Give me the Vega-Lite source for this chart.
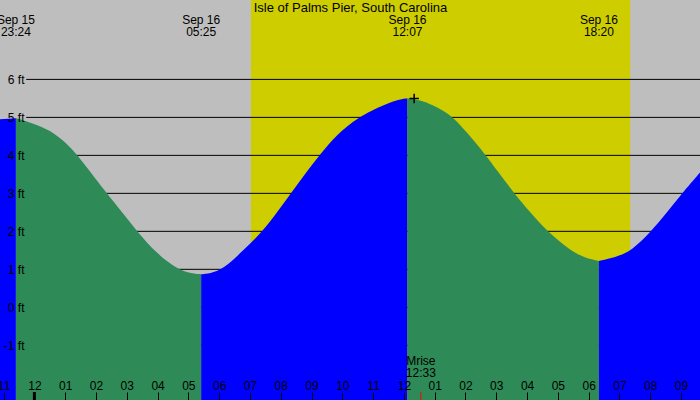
{
  "$schema": "https://vega.github.io/schema/vega-lite/v6.json",
  "autosize": "none",
  "padding": 0,
  "width": 700,
  "height": 400,
  "background": "#bebebe",
  "config": {
    "view": {"stroke": null},
    "text": {"font": "Liberation Sans", "fontSize": 12, "color": "black"}
  },
  "datasets": {
    "tide": [
      {"t": "2024-09-15T22:53", "ft": 4.95, "seg": 1, "phase": "rise"},
      {"t": "2024-09-15T23:24", "ft": 4.98, "seg": 1, "phase": "rise"},
      {"t": "2024-09-15T23:24", "ft": 4.98, "seg": 2, "phase": "fall"},
      {"t": "2024-09-15T23:58", "ft": 4.84, "seg": 2, "phase": "fall"},
      {"t": "2024-09-16T00:30", "ft": 4.67, "seg": 2, "phase": "fall"},
      {"t": "2024-09-16T01:03", "ft": 4.32, "seg": 2, "phase": "fall"},
      {"t": "2024-09-16T01:24", "ft": 4.0, "seg": 2, "phase": "fall"},
      {"t": "2024-09-16T01:39", "ft": 3.74, "seg": 2, "phase": "fall"},
      {"t": "2024-09-16T02:21", "ft": 3.0, "seg": 2, "phase": "fall"},
      {"t": "2024-09-16T02:51", "ft": 2.5, "seg": 2, "phase": "fall"},
      {"t": "2024-09-16T03:20", "ft": 2.0, "seg": 2, "phase": "fall"},
      {"t": "2024-09-16T03:59", "ft": 1.4, "seg": 2, "phase": "fall"},
      {"t": "2024-09-16T04:40", "ft": 1.0, "seg": 2, "phase": "fall"},
      {"t": "2024-09-16T05:03", "ft": 0.9, "seg": 2, "phase": "fall"},
      {"t": "2024-09-16T05:25", "ft": 0.87, "seg": 2, "phase": "fall"},
      {"t": "2024-09-16T05:25", "ft": 0.87, "seg": 3, "phase": "rise"},
      {"t": "2024-09-16T05:42", "ft": 0.89, "seg": 3, "phase": "rise"},
      {"t": "2024-09-16T06:08", "ft": 1.0, "seg": 3, "phase": "rise"},
      {"t": "2024-09-16T06:47", "ft": 1.5, "seg": 3, "phase": "rise"},
      {"t": "2024-09-16T07:25", "ft": 2.0, "seg": 3, "phase": "rise"},
      {"t": "2024-09-16T07:53", "ft": 2.5, "seg": 3, "phase": "rise"},
      {"t": "2024-09-16T08:20", "ft": 3.0, "seg": 3, "phase": "rise"},
      {"t": "2024-09-16T08:47", "ft": 3.5, "seg": 3, "phase": "rise"},
      {"t": "2024-09-16T09:15", "ft": 4.0, "seg": 3, "phase": "rise"},
      {"t": "2024-09-16T09:50", "ft": 4.55, "seg": 3, "phase": "rise"},
      {"t": "2024-09-16T10:29", "ft": 5.0, "seg": 3, "phase": "rise"},
      {"t": "2024-09-16T11:27", "ft": 5.37, "seg": 3, "phase": "rise"},
      {"t": "2024-09-16T11:53", "ft": 5.48, "seg": 3, "phase": "rise"},
      {"t": "2024-09-16T12:07", "ft": 5.5, "seg": 3, "phase": "rise"},
      {"t": "2024-09-16T12:07", "ft": 5.5, "seg": 4, "phase": "fall"},
      {"t": "2024-09-16T12:31", "ft": 5.46, "seg": 4, "phase": "fall"},
      {"t": "2024-09-16T12:57", "ft": 5.32, "seg": 4, "phase": "fall"},
      {"t": "2024-09-16T13:17", "ft": 5.17, "seg": 4, "phase": "fall"},
      {"t": "2024-09-16T13:36", "ft": 5.0, "seg": 4, "phase": "fall"},
      {"t": "2024-09-16T14:02", "ft": 4.62, "seg": 4, "phase": "fall"},
      {"t": "2024-09-16T14:40", "ft": 4.0, "seg": 4, "phase": "fall"},
      {"t": "2024-09-16T15:01", "ft": 3.61, "seg": 4, "phase": "fall"},
      {"t": "2024-09-16T15:35", "ft": 3.0, "seg": 4, "phase": "fall"},
      {"t": "2024-09-16T16:06", "ft": 2.5, "seg": 4, "phase": "fall"},
      {"t": "2024-09-16T16:39", "ft": 2.0, "seg": 4, "phase": "fall"},
      {"t": "2024-09-16T17:24", "ft": 1.5, "seg": 4, "phase": "fall"},
      {"t": "2024-09-16T17:53", "ft": 1.3, "seg": 4, "phase": "fall"},
      {"t": "2024-09-16T18:20", "ft": 1.22, "seg": 4, "phase": "fall"},
      {"t": "2024-09-16T18:20", "ft": 1.22, "seg": 5, "phase": "rise"},
      {"t": "2024-09-16T18:55", "ft": 1.33, "seg": 5, "phase": "rise"},
      {"t": "2024-09-16T19:25", "ft": 1.5, "seg": 5, "phase": "rise"},
      {"t": "2024-09-16T20:02", "ft": 2.0, "seg": 5, "phase": "rise"},
      {"t": "2024-09-16T20:33", "ft": 2.5, "seg": 5, "phase": "rise"},
      {"t": "2024-09-16T21:02", "ft": 3.0, "seg": 5, "phase": "rise"},
      {"t": "2024-09-16T21:37", "ft": 3.55, "seg": 5, "phase": "rise"}
    ],
    "sun": [
      {"rise": "2024-09-16T07:02", "set": "2024-09-16T19:21"}
    ],
    "gridlines": [
      {"ft": -1, "t0": "2024-09-15T23:44", "t1": "2024-09-16T21:37"},
      {"ft": 0, "t0": "2024-09-15T23:44", "t1": "2024-09-16T21:37"},
      {"ft": 1, "t0": "2024-09-15T23:44", "t1": "2024-09-16T21:37"},
      {"ft": 2, "t0": "2024-09-15T23:44", "t1": "2024-09-16T21:37"},
      {"ft": 3, "t0": "2024-09-15T23:44", "t1": "2024-09-16T21:37"},
      {"ft": 4, "t0": "2024-09-15T23:44", "t1": "2024-09-16T21:37"},
      {"ft": 5, "t0": "2024-09-15T23:44", "t1": "2024-09-16T21:37"},
      {"ft": 6, "t0": "2024-09-15T23:44", "t1": "2024-09-16T21:37"}
    ],
    "events": [
      {"t": "2024-09-15T23:24", "label": "Sep 15\n23:24"},
      {"t": "2024-09-16T05:25", "label": "Sep 16\n05:25"},
      {"t": "2024-09-16T12:07", "label": "Sep 16\n12:07"},
      {"t": "2024-09-16T18:20", "label": "Sep 16\n18:20"}
    ],
    "moon": [
      {"t": "2024-09-16T12:33", "label": "Mrise\n12:33"}
    ],
    "midnight": [
      {"t": "2024-09-16T00:00"}
    ],
    "station": [
      {"t": "2024-09-16T10:16", "name": "Isle of Palms Pier, South Carolina"}
    ],
    "now": [
      {"t": "2024-09-16T12:20", "ft": 5.5}
    ]
  },
  "layer": [
    {
      "data": {"name": "sun"},
      "mark": {"type": "rect", "color": "#cdcd00"},
      "encoding": {
        "x": {"field": "rise", "type": "temporal", "title": null},
        "x2": {"field": "set"}
      }
    },
    {
      "data": {"name": "gridlines"},
      "mark": {"type": "rule", "color": "black", "strokeWidth": 1},
      "encoding": {
        "x": {"field": "t0", "type": "temporal", "title": null},
        "x2": {"field": "t1"},
        "y": {"field": "ft", "type": "quantitative", "title": null}
      }
    },
    {
      "data": {"name": "tide"},
      "mark": {"type": "area", "interpolate": "basis", "clip": true},
      "encoding": {
        "x": {
          "field": "t",
          "type": "temporal",
          "title": null,
          "scale": {"nice": false},
          "axis": {
            "title": null,
            "tickCount": 24,
            "format": "%I",
            "domain": false,
            "grid": false,
            "tickSize": -8,
            "tickColor": "black",
            "labelPadding": -12,
            "labelFont": "Liberation Sans",
            "labelFontSize": 12,
            "labelColor": "black",
            "labelFlush": false,
            "labelOverlap": false,
            "zindex": 1
          }
        },
        "y": {
          "field": "ft",
          "type": "quantitative",
          "title": null,
          "scale": {"domain": [-2.44, 8.09], "nice": false, "zero": false},
          "axis": {
            "title": null,
            "values": [-1, 0, 1, 2, 3, 4, 5, 6],
            "labelExpr": "datum.value + ' ft'",
            "domain": false,
            "grid": false,
            "ticks": false,
            "tickSize": 0,
            "labelAlign": "right",
            "labelBaseline": "middle",
            "labelPadding": -24,
            "labelFont": "Liberation Sans",
            "labelFontSize": 12,
            "labelColor": "black",
            "zindex": 1
          }
        },
        "y2": {"datum": -2.44},
        "detail": {"field": "seg", "type": "nominal"},
        "color": {
          "field": "phase",
          "type": "nominal",
          "legend": null,
          "scale": {"domain": ["rise", "fall"], "range": ["#0000ff", "#2e8b57"]}
        }
      }
    },
    {
      "data": {"name": "moon"},
      "mark": {"type": "rule", "color": "red", "strokeWidth": 1},
      "encoding": {
        "x": {"field": "t", "type": "temporal"},
        "y": {"datum": -2.23},
        "y2": {"datum": -2.44}
      }
    },
    {
      "data": {"name": "midnight"},
      "mark": {"type": "rule", "color": "black", "strokeWidth": 3},
      "encoding": {
        "x": {"field": "t", "type": "temporal"},
        "y": {"datum": -2.23},
        "y2": {"datum": -2.44}
      }
    },
    {
      "data": {"name": "moon"},
      "mark": {"type": "text", "lineBreak": "\n", "lineHeight": 12, "baseline": "middle", "align": "center"},
      "encoding": {
        "x": {"field": "t", "type": "temporal"},
        "y": {"datum": -1.42},
        "text": {"field": "label", "type": "nominal"}
      }
    },
    {
      "data": {"name": "events"},
      "mark": {"type": "text", "lineBreak": "\n", "lineHeight": 12, "baseline": "middle", "align": "center"},
      "encoding": {
        "x": {"field": "t", "type": "temporal"},
        "y": {"datum": 7.57},
        "text": {"field": "label", "type": "nominal"}
      }
    },
    {
      "data": {"name": "station"},
      "mark": {"type": "text", "baseline": "middle", "align": "center", "fontSize": 13},
      "encoding": {
        "x": {"field": "t", "type": "temporal"},
        "y": {"datum": 7.89},
        "text": {"field": "name", "type": "nominal"}
      }
    },
    {
      "data": {"name": "now"},
      "mark": {"type": "point", "shape": "M-1,0L1,0M0,-1L0,1", "filled": false, "color": "black", "strokeWidth": 1.5, "size": 90, "opacity": 1},
      "encoding": {
        "x": {"field": "t", "type": "temporal"},
        "y": {"field": "ft", "type": "quantitative"}
      }
    }
  ]
}
